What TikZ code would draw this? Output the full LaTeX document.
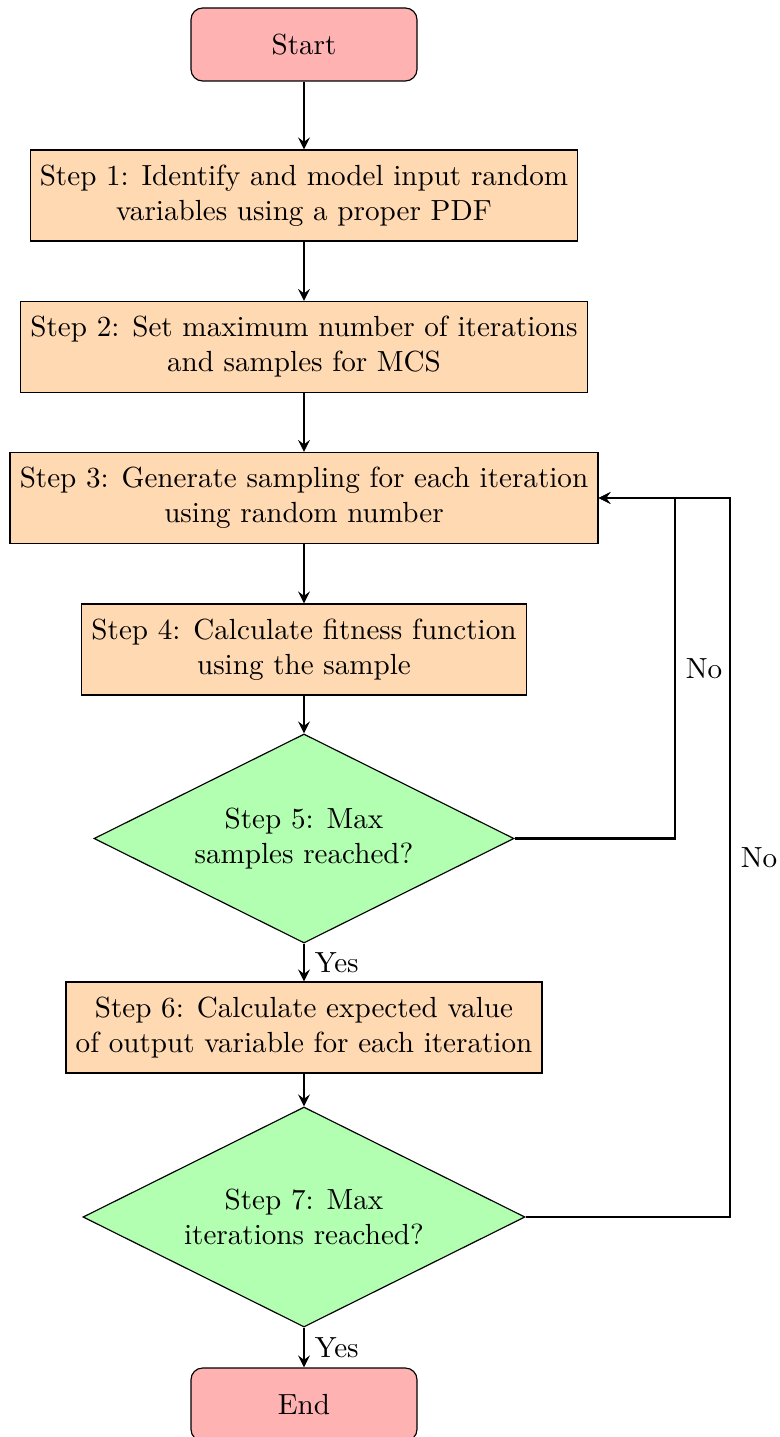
\documentclass[tikz,border=0pt]{standalone}
\usetikzlibrary{shapes.geometric,arrows}
\newlength\pxu
\setlength\pxu{0.3434pt}

\begin{document}
\begin{tikzpicture}[x=\pxu, y=-\pxu, %%% one unit is one pixel of the layout, y grows downwards
    startstop/.style={rectangle, rounded corners, draw, fill=red!30, minimum width=226*\pxu, minimum height=73*\pxu},
    process/.style={rectangle, draw, fill=orange!30, align=center, minimum height=91*\pxu},
    decision/.style={diamond, aspect=2, draw, fill=green!30, align=center, inner sep=0pt},
    arrow/.style={thick, ->, >=stealth}]
  \useasboundingbox (0,0) rectangle (779,1437);
  %%% main column
  \node[startstop] (start) at (304,44.5) {Start};
  \node[process] (step1) at (304,195.5) {Step 1: Identify and model input random\\ variables using a proper PDF};
  \node[process] (step2) at (304,347) {Step 2: Set maximum number of iterations\\ and samples for MCS};
  \node[process] (step3) at (304,498) {Step 3: Generate sampling for each iteration\\ using random number};
  \node[process] (step4) at (304,649.5) {Step 4: Calculate fitness function\\ using the sample};
  \node[decision, minimum width=420*\pxu, minimum height=209*\pxu] (step5) at (304,838.5) {Step 5: Max\\ samples reached?};
  \node[process] (step6) at (304,1027.5) {Step 6: Calculate expected value\\ of output variable for each iteration};
  \node[decision, minimum width=442*\pxu, minimum height=220*\pxu] (step7) at (304,1217) {Step 7: Max\\ iterations reached?};
  \node[startstop] (stop) at (304,1404.5) {End};
  %%% straight arrows
  \foreach \a/\b in {start/step1, step1/step2, step2/step3, step3/step4, step4/step5, step6/step7}{
    \draw[arrow] (\a) -- (\b);
  }
  \draw[arrow] (step5) -- node[right] {Yes} (step6);
  \draw[arrow] (step7) -- node[right] {Yes} (stop);
  %%% loops back to step 3
  \coordinate (innerloop) at (675,498);
  \coordinate (outerloop) at (730,498);
  \draw[arrow] (step5.east) -| node[pos=0.75, right] {No} (innerloop) -- (step3.east);
  \draw[arrow] (step7.east) -| node[pos=0.75, right] {No} (outerloop) -- (step3.east);
\end{tikzpicture}
\end{document}
